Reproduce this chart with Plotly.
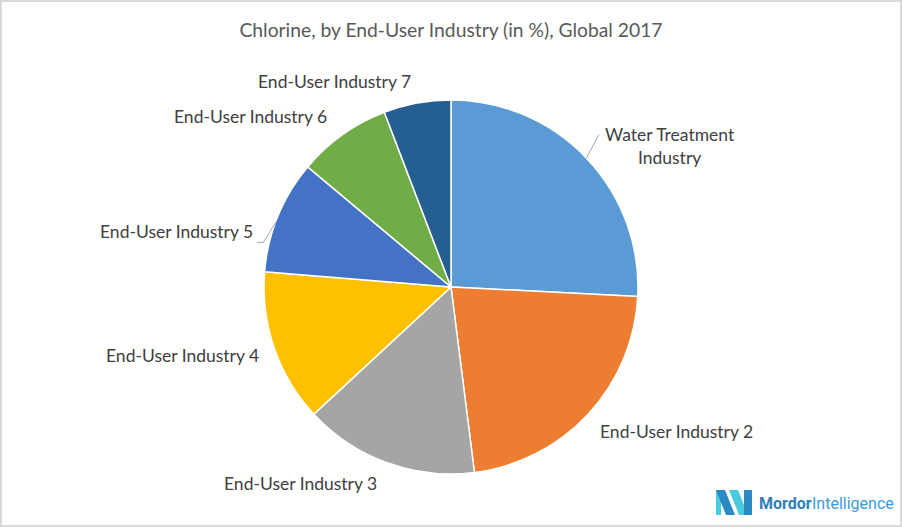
import math
import plotly.graph_objects as go

labels = ["Water Treatment<br>Industry", "End-User Industry 2", "End-User Industry 3",
          "End-User Industry 4", "End-User Industry 5", "End-User Industry 6",
          "End-User Industry 7"]
values = [25.8, 22.2, 15.1, 13.2, 9.8, 8.1, 5.8]
colors = ["#5B9BD5", "#ED7D31", "#A5A5A5", "#FFC000", "#4472C4", "#70AD47", "#255E91"]

W, H = 902, 527
CX, CY, R = 451, 287, 187      # pie centre and radius in pixels
LABEL_R = 1.12                 # label anchor distance (x radius)
LABEL_NUDGE = {0: (0, 3), 1: (-7, 2), 3: (8, 0), 4: (-2, 24)}   # labels moved by the layout (pixels)
LEADERS = {0, 4}               # labels drawn with a leader line
FONT = "Lato, Open Sans, sans-serif"

fig = go.Figure(go.Pie(
    labels=labels, values=values, sort=False, direction="clockwise", rotation=0,
    marker=dict(colors=colors, line=dict(color="white", width=1.5)),
    textinfo="none", automargin=False, hoverinfo="label+percent",
    hole=0, showlegend=False,
    domain=dict(x=[(CX - R) / W, (CX + R) / W], y=[1 - (CY + R) / H, 1 - (CY - R) / H]),
))

def px(x, y):
    return x / W, 1 - y / H

shapes = [dict(type="rect", xref="paper", yref="paper", x0=0.001, y0=0.002, x1=0.999, y1=0.998,
               line=dict(color="#D9D9D9", width=2), fillcolor="rgba(0,0,0,0)")]
annotations = []

total = sum(values)
cum = 0.0
for i, (lab, v) in enumerate(zip(labels, values)):
    mid = 2 * math.pi * (cum + v / 2) / total
    cum += v
    s, c = math.sin(mid), math.cos(mid)
    lx, ly = CX + LABEL_R * R * s, CY - LABEL_R * R * c
    dx, dy = LABEL_NUDGE.get(i, (0, 0))
    lx, ly = lx + dx, ly + dy
    anchor = "left" if s >= 0 else "right"
    X, Y = px(lx, ly)
    annotations.append(dict(text=lab, x=X, y=Y, xref="paper", yref="paper",
                            xanchor=anchor, yanchor="middle", align="center", showarrow=False,
                            font=dict(family=FONT, size=17.5, color="#404040")))
    if i in LEADERS:
        ex, ey = CX + R * s, CY - R * c
        if anchor == "left":
            pts = [(ex, ey), (lx - 4, ly - 11)]
        else:
            pts = [(ex - 2, ey + 6), (lx + 8, ly + 11), (lx + 2, ly + 11)]
        path = "M " + " L ".join("%.5f,%.5f" % px(a, b) for a, b in pts)
        shapes.append(dict(type="path", xref="paper", yref="paper", path=path,
                           line=dict(color="#A6A6A6", width=1)))

def poly(pts, color):
    p = "M " + " L ".join("%.5f,%.5f" % px(x, y) for x, y in pts) + " Z"
    return dict(type="path", xref="paper", yref="paper", path=p, fillcolor=color, line=dict(width=0))
shapes += [
    poly([(716, 490), (721, 490), (721, 515), (716, 515)], "#4ACBDD"),
    poly([(716, 490), (725, 490), (735, 515), (726, 515)], "#2B8AC5"),
    poly([(729, 490), (738, 490), (748, 515), (739, 515)], "#4ACBDD"),
    poly([(744, 490), (752, 490), (752, 515), (744, 515)], "#2B8AC5"),
]
annotations += [
    dict(text="<b>Mordor</b>", x=px(757, 503)[0], y=px(757, 503)[1], xref="paper", yref="paper",
         xanchor="left", yanchor="middle", showarrow=False,
         font=dict(family="Roboto, sans-serif", size=16, color="#2D7FB8")),
    dict(text="Intelligence", x=px(810, 503)[0], y=px(810, 503)[1], xref="paper", yref="paper",
         xanchor="left", yanchor="middle", showarrow=False,
         font=dict(family="Roboto, sans-serif", size=16, color="#3A9AD9")),
]

fig.update_layout(
    width=W, height=H, margin=dict(l=0, r=0, t=0, b=0, autoexpand=False),
    paper_bgcolor="white", plot_bgcolor="white",
    title=dict(text="Chlorine, by End-User Industry (in %), Global 2017",
               x=0.5, xanchor="center", y=1 - 30 / H, yanchor="middle",
               font=dict(family=FONT, size=19.3, color="#595959")),
    shapes=shapes, annotations=annotations,
)

fig.write_html("out.html", config={"displayModeBar": False},
               post_script="document.body.style.margin='0';")
